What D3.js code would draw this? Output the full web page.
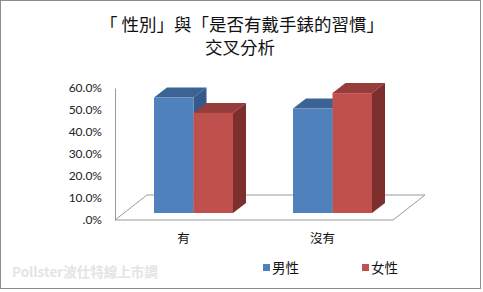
<!DOCTYPE html>
<html>
<head>
<meta charset="utf-8">
<script src="https://cdn.jsdelivr.net/npm/d3@7"></script>
<style>
  body { margin: 0; background: #fff; }
  text { font-family: "Noto Sans CJK TC", "Noto Sans", sans-serif; }
  .tick text { font-family: Lato, "Open Sans", sans-serif; }
</style>
</head>
<body>
<svg width="483" height="292"></svg>
<script>
const categories = ['有', '沒有'];
const seriesNames = ['男性', '女性'];
const male   = [52.5, 47.5];
const female = [45.5, 54.5];
const tickValues = [0, 10, 20, 30, 40, 50, 60];

const svg = d3.select('svg');
const width  = +svg.attr('width');
const height = +svg.attr('height');

// chart frame
svg.append('rect')
  .attr('x', 0.5).attr('y', 0.5)
  .attr('width', width - 3).attr('height', height - 4)
  .attr('fill', '#fff').attr('stroke', '#8c8c8c');

// title
const title = svg.append('text')
  .attr('text-anchor', 'middle')
  .attr('font-size', 17.5)
  .attr('fill', '#111');
title.append('tspan').attr('x', 242).attr('y', 31).text('「 性別」與「是否有戴手錶的習慣」');
title.append('tspan').attr('x', 240).attr('y', 54).text('交叉分析');

const colors = {
  '男性': { front: '#4f81bd', top: '#3b6495', side: '#34598a' },
  '女性': { front: '#c0504d', top: '#963c3a', side: '#7c2f2d' }
};

const x0 = 115, x1 = 393, yBase = 220, yTop = 88;
const floorDepth = { dx: 32, dy: -25 };
const barOffset  = { dx: 9,  dy: -7 };
const barDepth   = { dx: 13, dy: -10 };

const yScale = d3.scaleLinear().domain([0, 60]).range([yBase, yTop]);
const xScale = d3.scaleBand().domain(categories).range([x0, x1]);
const groupW = 79;
const xSeries = d3.scaleBand().domain(seriesNames)
  .range([(xScale.bandwidth() - groupW) / 2, (xScale.bandwidth() + groupW) / 2]);

// floor
svg.append('path')
  .attr('d', `M${x0},${yBase} L${x0 + floorDepth.dx},${yBase + floorDepth.dy} L${x1 + floorDepth.dx},${yBase + floorDepth.dy} L${x1},${yBase} Z`)
  .attr('fill', '#fff').attr('stroke', '#9a9a9a');

// value axis
const yAxis = d3.axisLeft(yScale)
  .tickValues(tickValues)
  .tickSize(0)
  .tickPadding(13)
  .tickFormat(d => d === 0 ? '.0%' : d3.format('.1f')(d) + '%');
const yAxisG = svg.append('g').attr('transform', `translate(${x0},0)`).call(yAxis);
yAxisG.select('.domain').attr('stroke', '#9a9a9a');
yAxisG.selectAll('text').attr('font-size', 12).attr('fill', '#222');

// bars
const rows = [];
categories.forEach((c, i) => {
  rows.push({ cat: c, s: '男性', v: male[i] });
  rows.push({ cat: c, s: '女性', v: female[i] });
});

const h = v => yScale(0) - yScale(v);
const bars = svg.selectAll('g.bar').data(rows).enter().append('g').attr('class', 'bar');
bars.each(function(d) {
  const g = d3.select(this);
  const left = xScale(d.cat) + xSeries(d.s) + barOffset.dx;
  const right = left + xSeries.bandwidth();
  const bottom = yBase + barOffset.dy;
  const top = bottom - h(d.v);
  const c = colors[d.s];
  g.append('path')
    .attr('d', `M${left},${top} L${left + barDepth.dx},${top + barDepth.dy} L${right + barDepth.dx},${top + barDepth.dy} L${right},${top} Z`)
    .attr('fill', c.top);
  g.append('path')
    .attr('d', `M${right},${top} L${right + barDepth.dx},${top + barDepth.dy} L${right + barDepth.dx},${bottom + barDepth.dy} L${right},${bottom} Z`)
    .attr('fill', c.side);
  g.append('rect')
    .attr('x', left).attr('y', top)
    .attr('width', right - left).attr('height', bottom - top)
    .attr('fill', c.front);
});

// category labels
svg.selectAll('text.cat').data(categories).enter().append('text')
  .attr('class', 'cat')
  .attr('x', d => xScale(d) + xScale.bandwidth() / 2 - 1)
  .attr('y', 243)
  .attr('text-anchor', 'middle')
  .attr('font-size', 12.5)
  .attr('fill', '#111')
  .text(d => d);

// legend
const legendX = [263, 362];
const legend = svg.selectAll('g.legend').data(seriesNames).enter().append('g')
  .attr('class', 'legend')
  .attr('transform', (d, i) => `translate(${legendX[i]},268)`);
legend.append('rect')
  .attr('x', 0).attr('y', -4).attr('width', 7).attr('height', 7)
  .attr('fill', d => colors[d].front);
legend.append('text')
  .attr('x', 9).attr('y', 4.5)
  .attr('font-size', 13.5)
  .attr('fill', '#111')
  .text(d => d);

// watermark
svg.append('text')
  .attr('x', 12).attr('y', 277)
  .attr('font-size', 13.5)
  .attr('font-weight', 'bold')
  .attr('fill', '#e4e4e4')
  .text('Pollster波仕特線上市調');
</script>
</body>
</html>
